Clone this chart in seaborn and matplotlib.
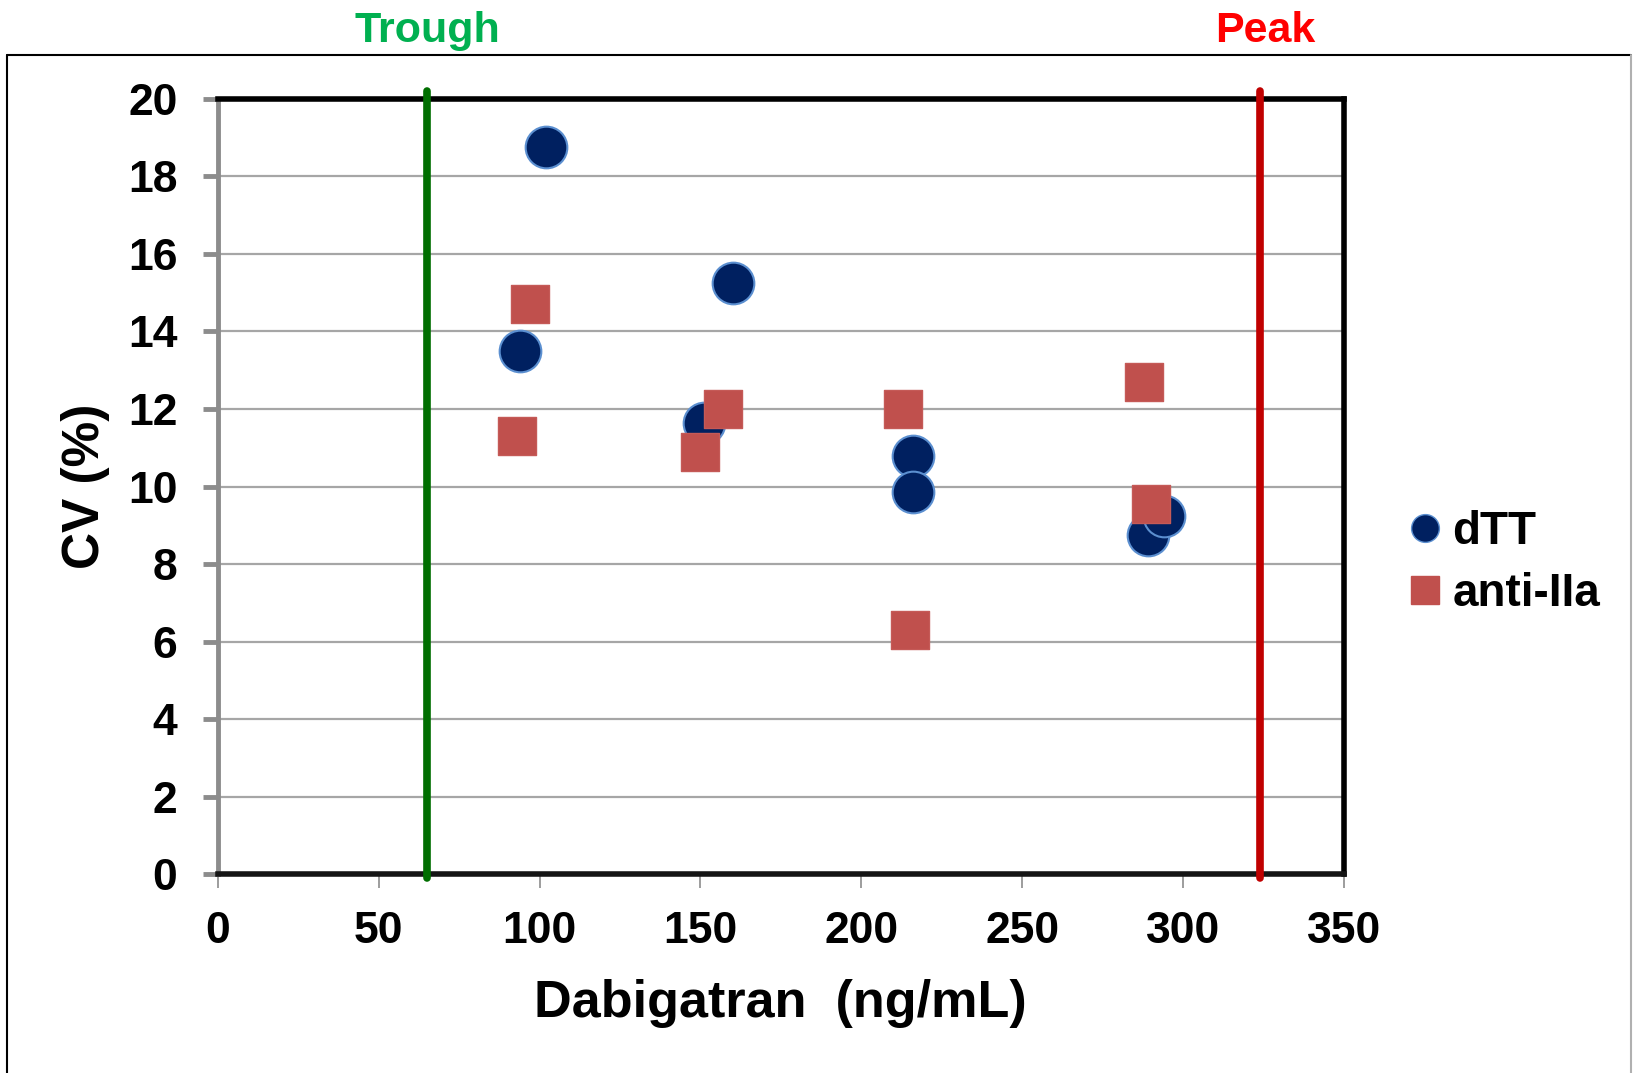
import seaborn as sns
import matplotlib.pyplot as plt
import matplotlib.transforms as mtransforms
from matplotlib.lines import Line2D

# Data
dtt_x = [102, 94, 160, 151, 216, 216, 289, 294]
dtt_y = [18.75, 13.5, 15.25, 11.65, 10.8, 9.85, 8.75, 9.25]
anti_x = [97, 93, 157, 150, 213, 215, 288, 290]
anti_y = [14.7, 11.3, 12.0, 10.9, 12.0, 6.3, 12.7, 9.55]
trough_x, peak_x = 65, 324
x_ticks = [0, 50, 100, 150, 200, 250, 300, 350]
y_ticks = [0, 2, 4, 6, 8, 10, 12, 14, 16, 18, 20]

sns.set_style('white')
plt.rcParams['font.family'] = ['Liberation Sans', 'DejaVu Sans']
plt.rcParams['font.weight'] = 'bold'
plt.rcParams['text.color'] = 'black'
plt.rcParams['axes.labelcolor'] = 'black'

fig = plt.figure(figsize=(16.37, 10.73), dpi=100)
ax = fig.add_axes([0.133, 0.185, 0.688, 0.723])

# Horizontal grid lines
for y in y_ticks[1:-1]:
    ax.axhline(y, color='#a6a6a6', lw=1.6, zorder=1)

# Points
sns.scatterplot(x=dtt_x, y=dtt_y, marker='o', s=900, color='#002060',
                edgecolor='#5b8fd0', linewidth=1.5, ax=ax, zorder=3, legend=False)
sns.scatterplot(x=anti_x, y=anti_y, marker='s', s=725, color='#c0504d',
                edgecolor='#c55a57', linewidth=1, ax=ax, zorder=4, legend=False)

# Trough / Peak lines
ax.plot([trough_x, trough_x], [-0.1, 20.2], color='#006e00', lw=5.5, clip_on=False, zorder=5)
ax.plot([peak_x, peak_x], [-0.1, 20.2], color='#c00000', lw=5.5, clip_on=False, zorder=5)

blend = mtransforms.blended_transform_factory(ax.transData, fig.transFigure)
ax.text(trough_x, 0.961, 'Trough', transform=blend, ha='center', va='baseline',
        color='#00b050', fontsize=31, fontweight='bold')
ax.text(peak_x + 1.5, 0.961, 'Peak', transform=blend, ha='center', va='baseline',
        color='#ff0000', fontsize=31, fontweight='bold')

ax.set_xlim(0, 350)
ax.set_ylim(0, 20)
ax.set_xticks(x_ticks)
ax.set_yticks(y_ticks)
ax.tick_params(axis='y', length=11, width=3.5, color='#8c8c8c', pad=18,
               labelsize=32, labelcolor='black', left=True)
ax.tick_params(axis='x', length=10, width=1.2, color='#8c8c8c', pad=16,
               labelsize=32, labelcolor='black', bottom=True)
for lbl in ax.get_xticklabels() + ax.get_yticklabels():
    lbl.set_fontweight('bold')

ax.spines['top'].set_color('black')
ax.spines['top'].set_linewidth(4)
ax.spines['right'].set_color('black')
ax.spines['right'].set_linewidth(4)
ax.spines['bottom'].set_color('#151515')
ax.spines['bottom'].set_linewidth(4)
ax.spines['left'].set_color('#8c8c8c')
ax.spines['left'].set_linewidth(3.5)

ax.set_xlabel('Dabigatran  (ng/mL)', fontsize=37.5, fontweight='bold', labelpad=20)
ax.set_ylabel('CV (%)', fontsize=37, fontweight='bold', labelpad=13)

# Legend
handles = [
    Line2D([], [], marker='o', linestyle='none', markersize=20,
           markerfacecolor='#002060', markeredgecolor='#5b8fd0', markeredgewidth=1),
    Line2D([], [], marker='s', linestyle='none', markersize=20,
           markerfacecolor='#c0504d', markeredgecolor='#c0504d'),
]
fig.legend(handles, ['dTT', 'anti-IIa'], loc='center left',
           bbox_to_anchor=(0.862, 0.475), frameon=False,
           handlelength=0.6, handletextpad=0.3, labelspacing=0.4,
           borderaxespad=0, borderpad=0, prop={'weight': 'bold', 'size': 33})

# Outer frame
fig.add_artist(Line2D([0.0045, 0.9963], [0.949, 0.949], color='black', lw=1.5,
                      transform=fig.transFigure))
fig.add_artist(Line2D([0.0045, 0.0045], [0.949, 0.0], color='black', lw=1.5,
                      transform=fig.transFigure))
fig.add_artist(Line2D([0.9963, 0.9963], [0.949, 0.0], color='#b0b0b0', lw=1.5,
                      transform=fig.transFigure))

plt.savefig('out.png', dpi=100)
